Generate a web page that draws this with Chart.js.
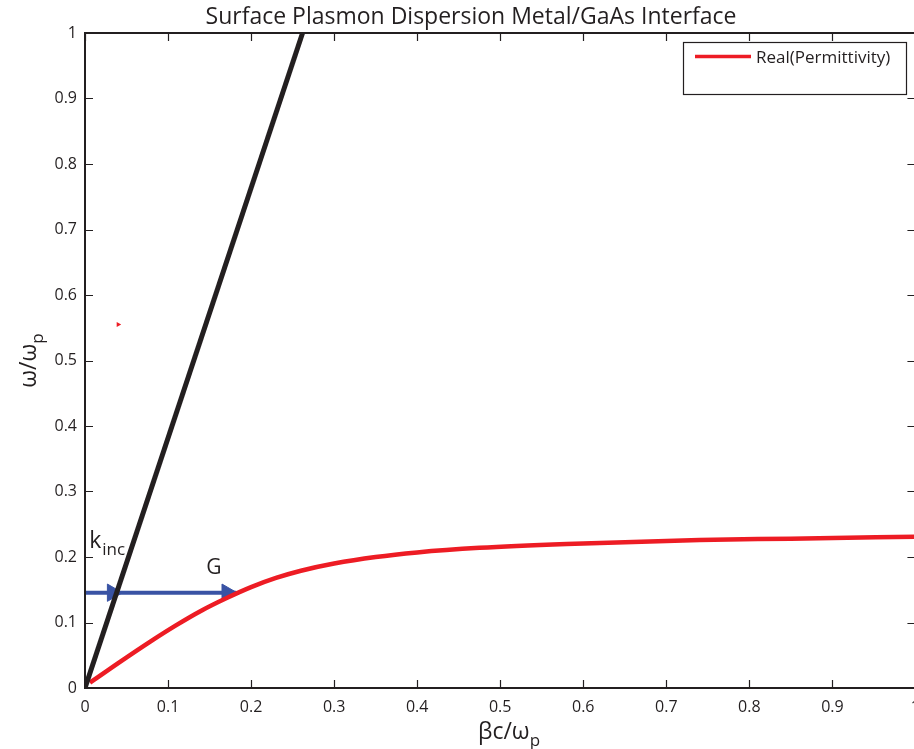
<!DOCTYPE html>
<html>
<head>
<meta charset="utf-8">
<script src="https://cdn.jsdelivr.net/npm/chart.js@4.4.1/dist/chart.umd.min.js"></script>
<style>
  html, body { margin: 0; padding: 0; background: #fff; overflow: hidden; }
  #wrap { width: 930px; height: 749px; }
</style>
</head>
<body>
<div id="wrap"><canvas id="sp-chart" width="930" height="749"></canvas></div>
<script>
// tick values and labels (both axes use the same 0..1 grid)
const tickValues = [0, 0.1, 0.2, 0.3, 0.4, 0.5, 0.6, 0.7, 0.8, 0.9, 1];
const tickLabels = ['0', '0.1', '0.2', '0.3', '0.4', '0.5', '0.6', '0.7', '0.8', '0.9', '1'];

// light line in GaAs (black)
const lightX = [0, 0.262];
const lightY = [0, 1];

// surface plasmon dispersion, real part (red)
const spX = [0.006, 0.04, 0.08, 0.11, 0.14, 0.17, 0.20, 0.23, 0.26, 0.30, 0.35, 0.40, 0.475, 0.58, 0.74, 0.85, 1.0];
const spY = [0.008, 0.038, 0.072, 0.096, 0.118, 0.137, 0.154, 0.168, 0.179, 0.190, 0.200, 0.207, 0.214, 0.220, 0.226, 0.228, 0.231];

// blue arrow (incident k + G): shaft and arrowhead centres
const arrowX = [0, 0.182];
const arrowY = [0.1455, 0.1455];
const headX = [0.033, 0.171];
const headY = [0.1455, 0.1455];

// stray red mark
const strayX = [0.040];
const strayY = [0.555];

// annotations in data coordinates
const notes = [
  { text: 'k', sub: 'inc', x: 0.005, y: 0.213, size: 23, subSize: 17 },
  { text: 'G', sub: '', x: 0.146, y: 0.174, size: 21, subSize: 0 }
];

const titleText = 'Surface Plasmon Dispersion Metal/GaAs Interface';
const legendText = 'Real(Permittivity)';
const FONT = '"Open Sans", "DejaVu Sans", sans-serif';

const RED = '#ed1c24';
const BLUE = '#3953a4';
const BLACK = '#231f20';

function pts(xs, ys) {
  return xs.map((x, i) => ({ x: x, y: ys[i] }));
}

// frame, inward ticks, titles, legend and text notes
const decorPlugin = {
  id: 'decor',
  afterDatasetsDraw(chart) {
    const ctx = chart.ctx;
    const a = chart.chartArea;
    const xs = chart.scales.x;
    const ys = chart.scales.y;
    ctx.save();

    // axis box
    ctx.strokeStyle = BLACK;
    ctx.lineWidth = 2;
    ctx.strokeRect(a.left, a.top, a.right - a.left, a.bottom - a.top);

    // inward ticks
    ctx.lineWidth = 1.2;
    ctx.beginPath();
    tickValues.forEach(v => {
      const px = Math.round(xs.getPixelForValue(v)) + 0.5;
      ctx.moveTo(px, a.bottom); ctx.lineTo(px, a.bottom - 8);
      ctx.moveTo(px, a.top); ctx.lineTo(px, a.top + 8);
      const py = Math.round(ys.getPixelForValue(v)) + 0.5;
      ctx.moveTo(a.left, py); ctx.lineTo(a.left + 8, py);
      ctx.moveTo(a.right, py); ctx.lineTo(a.right - 8, py);
    });
    ctx.stroke();

    ctx.fillStyle = BLACK;
    ctx.textBaseline = 'alphabetic';

    // title
    ctx.font = '23px ' + FONT;
    ctx.textAlign = 'center';
    ctx.fillText(titleText, 471, 24);

    // x title with subscript
    ctx.textAlign = 'left';
    ctx.font = '23px ' + FONT;
    const xMain = 'βc/ω';
    const wMain = ctx.measureText(xMain).width;
    ctx.font = '17px ' + FONT;
    const wSub = ctx.measureText('p').width;
    let x0 = 509 - (wMain + wSub) / 2;
    ctx.font = '23px ' + FONT;
    ctx.fillText(xMain, x0, 739);
    ctx.font = '17px ' + FONT;
    ctx.fillText('p', x0 + wMain, 746);

    // y title, rotated
    ctx.save();
    ctx.translate(36, (a.top + a.bottom) / 2);
    ctx.rotate(-Math.PI / 2);
    ctx.font = '23px ' + FONT;
    const yMain = 'ω/ω';
    const wy = ctx.measureText(yMain).width;
    x0 = -(wy + wSub) / 2;
    ctx.fillText(yMain, x0, 0);
    ctx.font = '17px ' + FONT;
    ctx.fillText('p', x0 + wy, 7);
    ctx.restore();

    // notes (k_inc, G)
    notes.forEach(n => {
      const px = xs.getPixelForValue(n.x);
      const py = ys.getPixelForValue(n.y);
      ctx.font = n.size + 'px ' + FONT;
      ctx.fillText(n.text, px, py);
      if (n.sub) {
        const w = ctx.measureText(n.text).width;
        ctx.font = n.subSize + 'px ' + FONT;
        ctx.fillText(n.sub, px + w + 1, py + 7);
      }
    });

    // legend box
    ctx.fillStyle = '#fff';
    ctx.fillRect(683, 42, 223, 52);
    ctx.strokeStyle = BLACK;
    ctx.lineWidth = 1.2;
    ctx.strokeRect(683.5, 42.5, 223, 52);
    ctx.strokeStyle = RED;
    ctx.lineWidth = 3.5;
    ctx.beginPath();
    ctx.moveTo(695, 56.5); ctx.lineTo(751, 56.5);
    ctx.stroke();
    ctx.fillStyle = BLACK;
    ctx.font = '17px ' + FONT;
    ctx.fillText(legendText, 756, 63);

    ctx.restore();
  }
};

const ctx = document.getElementById('sp-chart').getContext('2d');
const sp_chart = new Chart(ctx, {
  type: 'scatter',
  data: {
    datasets: [
      {
        label: 'light line',
        data: pts(lightX, lightY),
        showLine: true,
        borderColor: BLACK,
        borderWidth: 5,
        pointRadius: 0
      },
      {
        label: 'Real(Permittivity)',
        data: pts(spX, spY),
        showLine: true,
        borderColor: RED,
        borderWidth: 4.5,
        cubicInterpolationMode: 'monotone',
        pointRadius: 0
      },
      {
        label: 'arrow',
        data: pts(arrowX, arrowY),
        showLine: true,
        borderColor: BLUE,
        borderWidth: 4,
        pointRadius: 0
      },
      {
        label: 'arrow heads',
        data: pts(headX, headY),
        showLine: false,
        pointStyle: 'triangle',
        pointRotation: 90,
        pointRadius: 10,
        pointHoverRadius: 10,
        pointBackgroundColor: BLUE,
        pointBorderColor: BLUE,
        pointBorderWidth: 1
      },
      {
        label: 'stray',
        data: pts(strayX, strayY),
        showLine: false,
        pointStyle: 'triangle',
        pointRotation: 90,
        pointRadius: 3,
        pointBackgroundColor: RED,
        pointBorderColor: RED,
        pointBorderWidth: 0
      }
    ]
  },
  options: {
    responsive: false,
    animation: false,
    events: [],
    layout: { padding: { top: 33, left: 0, right: 0, bottom: 0 } },
    plugins: {
      legend: { display: false },
      title: { display: false },
      tooltip: { enabled: false }
    },
    scales: {
      x: {
        type: 'linear',
        min: 0,
        max: 1,
        afterBuildTicks: s => { s.ticks = tickValues.map(v => ({ value: v })); },
        afterFit: s => { s.height = 61; },
        grid: { display: false, drawTicks: false },
        border: { display: false },
        ticks: {
          padding: 10,
          color: BLACK,
          font: { family: FONT, size: 16 },
          maxRotation: 0,
          callback: (v, i) => tickLabels[i]
        }
      },
      y: {
        type: 'linear',
        min: 0,
        max: 1,
        afterBuildTicks: s => { s.ticks = tickValues.map(v => ({ value: v })); },
        afterFit: s => { s.width = 85; },
        grid: { display: false, drawTicks: false },
        border: { display: false },
        ticks: {
          padding: 8,
          color: BLACK,
          font: { family: FONT, size: 16 },
          callback: (v, i) => tickLabels[i]
        }
      }
    }
  },
  plugins: [decorPlugin]
});
</script>
</body>
</html>
